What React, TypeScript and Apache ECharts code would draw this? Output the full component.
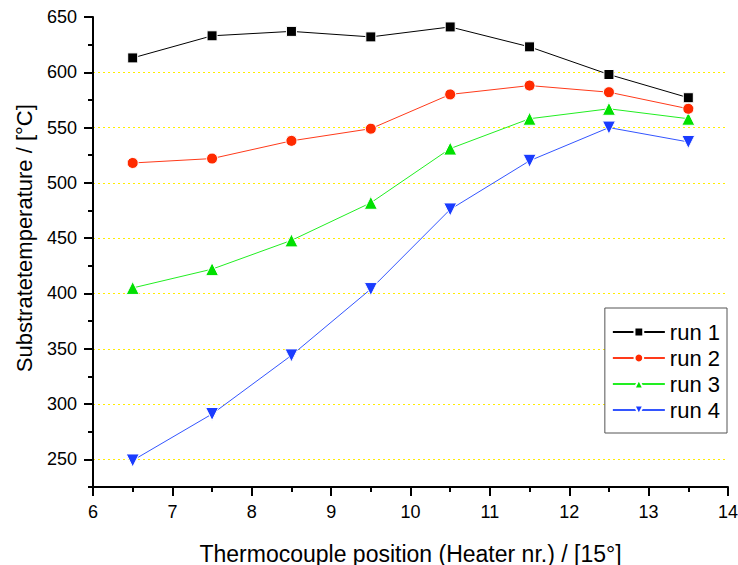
import React, { useEffect, useRef } from "react";
import * as echarts from "echarts";

const positions = [6.5, 7.5, 8.5, 9.5, 10.5, 11.5, 12.5, 13.5];
const run1 = [613, 633, 637, 632, 641, 623, 598, 577];
const run2 = [518, 522, 538, 549, 580, 588, 582, 567];
const run3 = [405, 422, 448, 482, 531, 558, 567, 558];
const run4 = [249, 291, 344, 404, 476, 520, 550, 537];
const seriesNames = ["run 1", "run 2", "run 3", "run 4"];
const seriesColors = ["#000000", "#ff2a00", "#00e000", "#1a3cff"];
const lineColors = ["#000000", "#ff3a1a", "#22ee22", "#3355ff"];
const symbols = ["rect", "circle", "triangle", "triangle"];
const symbolRotations = [0, 0, 0, 180];
const symbolSizes = [10, 11, 13, 13];

const FONT = "Liberation Sans, Arial, sans-serif";

export default function App() {
  const ref = useRef<HTMLDivElement>(null);
  useEffect(() => {
    if (!ref.current) return;
    const chart = echarts.init(ref.current, null, { renderer: "svg" });
    const data = [run1, run2, run3, run4];
    const plotTop = 17;
    const plotBottom = 78;
    const pxPerUnit = (565 - plotBottom - plotTop) / (650 - 225);
    const majorBottom = plotBottom + 25 * pxPerUnit;
    const option: any = {
      animation: false,
      backgroundColor: "#ffffff",
      textStyle: { fontFamily: FONT },
      grid: [
        { left: 93, right: 10, top: plotTop, bottom: plotBottom, outerBoundsMode: "none", containLabel: false },
        { left: 93, right: 10, top: plotTop, bottom: majorBottom, outerBoundsMode: "none", containLabel: false },
      ],
      legend: {
        orient: "vertical",
        right: 11,
        top: 308,
        backgroundColor: "#ffffff",
        borderColor: "#555555",
        borderWidth: 1,
        padding: [13, 7, 12, 7],
        itemWidth: 52,
        itemHeight: 11,
        itemGap: 4,
        textStyle: { fontSize: 22, color: "#000", fontFamily: FONT },
        data: seriesNames,
      },
      xAxis: [
        {
          type: "value",
          gridIndex: 0,
          min: 6,
          max: 14,
          interval: 1,
          name: "Thermocouple position (Heater nr.) / [15°]",
          nameLocation: "middle",
          nameGap: 55,
          nameTextStyle: { fontSize: 23, color: "#000", fontFamily: FONT },
          axisLine: { show: true, onZero: false, lineStyle: { color: "#000", width: 2 } },
          axisTick: { show: true, length: 9, lineStyle: { color: "#000", width: 2 } },
          minorTick: { show: true, splitNumber: 2, length: 5, lineStyle: { color: "#000", width: 2 } },
          axisLabel: { fontSize: 18, color: "#000", margin: 16, fontFamily: FONT },
          splitLine: { show: false },
        },
        {
          type: "value",
          gridIndex: 1,
          min: 6,
          max: 14,
          show: false,
        },
      ],
      yAxis: [
        {
          type: "value",
          gridIndex: 0,
          min: 225,
          max: 650,
          interval: 25,
          axisLine: { show: true, onZero: false, lineStyle: { color: "#000", width: 2 } },
          axisTick: { show: true, length: 5, lineStyle: { color: "#000", width: 2 } },
          axisLabel: { show: false },
          splitLine: { show: false },
        },
        {
          type: "value",
          gridIndex: 1,
          min: 250,
          max: 650,
          interval: 50,
          name: "Substratetemperature / [°C]",
          nameLocation: "middle",
          nameGap: 58,
          nameTextStyle: { fontSize: 22, color: "#000", fontFamily: FONT },
          axisLine: { show: false },
          axisTick: { show: true, length: 9, lineStyle: { color: "#000", width: 2 } },
          axisLabel: { fontSize: 18, color: "#000", margin: 16, fontFamily: FONT },
          splitLine: {
            show: true,
            showMaxLine: false,
            lineStyle: { color: "#ffee00", type: [2, 3], width: 1 },
          },
        },
      ],
      series: data.map((vals, i) => ({
        name: seriesNames[i],
        type: "line",
        xAxisIndex: 0,
        yAxisIndex: 0,
        data: positions.map((p, j) => [p, vals[j]]),
        symbol: symbols[i],
        symbolRotate: symbolRotations[i],
        symbolSize: symbolSizes[i],
        showAllSymbol: true,
        color: seriesColors[i],
        lineStyle: { color: lineColors[i], width: 1 },
        itemStyle: { color: seriesColors[i], borderColor: "#ffffff", borderWidth: 1 },
        z: 10 - i,
      })),
    };
    chart.setOption(option);
    return () => chart.dispose();
  }, []);
  return <div ref={ref} style={{ width: 738, height: 565, position: "absolute", left: 0, top: 0 }} />;
}
